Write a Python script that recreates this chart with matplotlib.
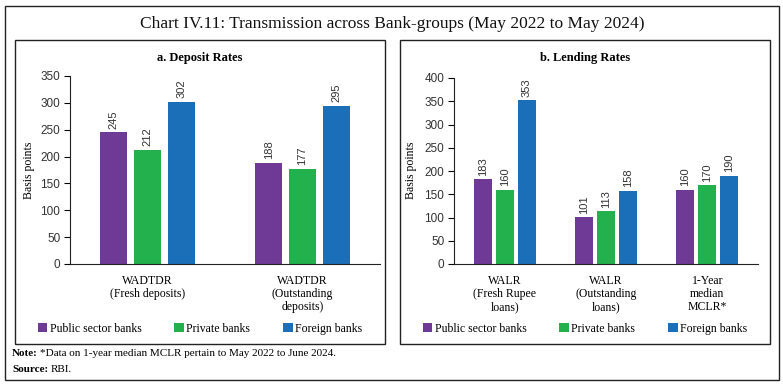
import numpy as np
import matplotlib
matplotlib.use("Agg")
import matplotlib.pyplot as plt
from matplotlib.patches import Rectangle

# data
series = ["Public sector banks", "Private banks", "Foreign banks"]
colors = ["#6F3996", "#22B14C", "#1B6FB8"]

dep_cats = ["WADTDR\n(Fresh deposits)", "WADTDR\n(Outstanding\ndeposits)"]
dep_vals = [[245, 188], [212, 177], [302, 295]]

lend_cats = ["WALR\n(Fresh Rupee\nloans)", "WALR\n(Outstanding\nloans)", "1-Year\nmedian\nMCLR*"]
lend_vals = [[183, 101, 160], [160, 113, 170], [353, 158, 190]]

W, H = 783, 386
SERIF = "Liberation Serif"
SANS = "Liberation Sans"

fig = plt.figure(figsize=(W / 100, H / 100), dpi=100)


def px_rect(x0, y0, x1, y1):
    return [x0 / W, 1 - y1 / H, (x1 - x0) / W, (y1 - y0) / H]


def box(x0, y0, x1, y1, lw=1.0):
    fig.patches.append(Rectangle((x0 / W, 1 - y1 / H), (x1 - x0) / W, (y1 - y0) / H,
                                 transform=fig.transFigure, fill=False,
                                 edgecolor="#222222", linewidth=lw))


box(5, 6, 779, 380)
box(15, 40, 385, 344)
box(400, 40, 770, 344)

fig.text(392 / W, 1 - 24 / H, "Chart IV.11: Transmission across Bank-groups (May 2022 to May 2024)",
         ha="center", va="center", fontsize=12.5, family=SERIF, color="#111111")


def panel(rect, cats, vals, ymax, title, ylab_x, pane):
    ax = fig.add_axes(px_rect(*rect))
    x = np.arange(len(cats))
    w = 0.175
    off = 0.217
    for i, (name, col) in enumerate(zip(series, colors)):
        bars = ax.bar(x + (i - 1) * off, vals[i], w, color=col, label=name)
        for b, v in zip(bars, vals[i]):
            ax.text(b.get_x() + b.get_width() / 2, v + 7, str(v), rotation=90,
                    ha="center", va="bottom", fontsize=8, family=SANS, color="#333333")
    ax.set_xlim(-0.5, len(cats) - 0.5)
    ax.set_ylim(0, ymax)
    ax.set_yticks(np.arange(0, ymax + 1, 50))
    ax.set_xticks(x)
    ax.set_xticklabels(cats, family=SERIF, fontsize=8.5, linespacing=1.1)
    ax.tick_params(axis="x", length=0, pad=8)
    ax.tick_params(axis="y", length=4, width=0.8, labelsize=8.5, pad=3, labelcolor="#333333")
    for lab in ax.get_yticklabels():
        lab.set_family(SANS)
    for s in ["top", "right"]:
        ax.spines[s].set_visible(False)
    ax.spines["left"].set_color("#222222")
    ax.spines["bottom"].set_color("#222222")
    fig.text(ylab_x / W, 1 - 170 / H, "Basis points", rotation=90, ha="center", va="center",
             fontsize=8.5, family=SERIF)
    cx = (pane[0] + pane[1]) / 2
    fig.text(cx / W, 1 - 58 / H, title, ha="center", va="center",
             fontsize=9, family=SERIF, fontweight="bold")
    ax.legend(loc="center", bbox_to_anchor=(cx / W, 1 - 329 / H),
              bbox_transform=fig.transFigure, ncol=3, frameon=False,
              prop={"family": SERIF, "size": 8.5}, handlelength=0.8, handleheight=0.8,
              handletextpad=0.2, columnspacing=2.8, borderaxespad=0)
    return ax


panel((70, 76, 380, 264), dep_cats, dep_vals, 350, "a. Deposit Rates", 29, (15, 385))
panel((454, 78, 758, 264), lend_cats, lend_vals, 400, "b. Lending Rates", 411, (400, 770))

fig.text(12 / W, 1 - 353 / H, "Note:", fontsize=8, family=SERIF, fontweight="bold", va="center")
fig.text(40 / W, 1 - 353 / H, "*Data on 1-year median MCLR pertain to May 2022 to June 2024.",
         fontsize=8, family=SERIF, va="center")
fig.text(12 / W, 1 - 369 / H, "Source:", fontsize=8, family=SERIF, fontweight="bold", va="center")
fig.text(51 / W, 1 - 369 / H, "RBI.", fontsize=8, family=SERIF, va="center")

fig.savefig("out.png", dpi=100)
